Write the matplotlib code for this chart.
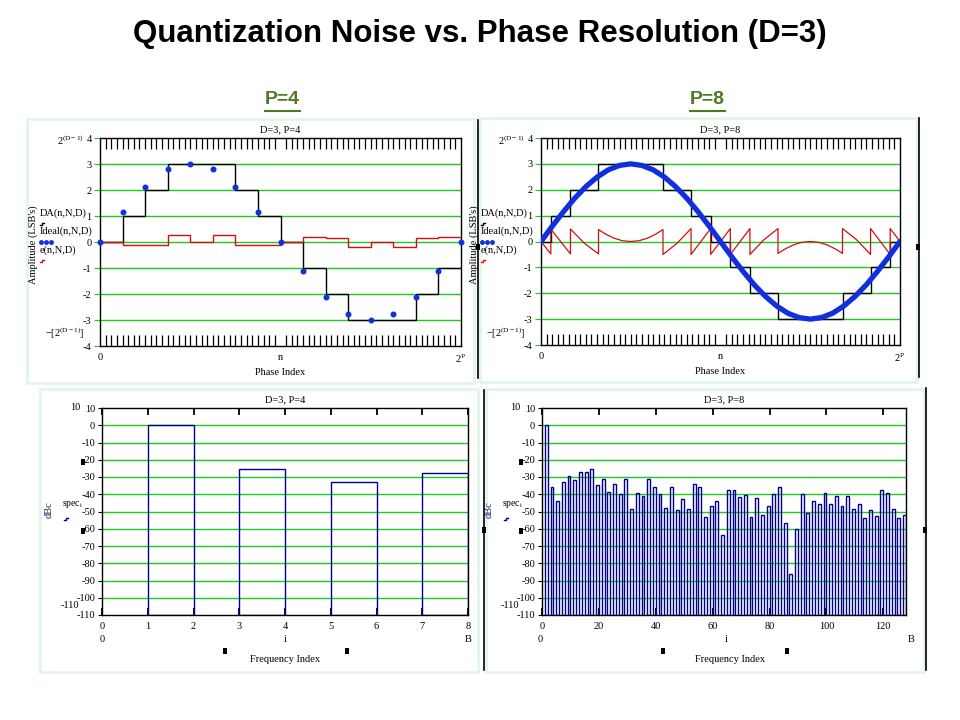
import numpy as np
import matplotlib.pyplot as plt
from matplotlib.patches import Rectangle
from matplotlib.lines import Line2D

# ---------------- data ----------------
# P=4 : 16 phase steps
n4 = list(range(17))
ideal4 = [0, 1.17, 2.12, 2.8, 3.0, 2.8, 2.12, 1.17, 0,
          -1.12, -2.1, -2.75, -3.0, -2.75, -2.1, -1.12, 0]
da4 = [0, 1, 2, 3, 3, 3, 2, 1, 0, -1, -2, -3, -3, -3, -2, -1]
err4 = [0, -0.12, -0.12, 0.28, 0, 0.28, -0.12, -0.12,
        0, 0.18, 0.14, -0.19, 0, -0.19, 0.14, 0.19]

# P=8 : 256 phase steps
n8 = list(range(0, 257, 8))
ideal8 = [0, 0.59, 1.15, 1.67, 2.12, 2.49, 2.77, 2.94, 3.0, 2.94, 2.77, 2.49, 2.12, 1.67, 1.15, 0.59, 0,
          -0.59, -1.15, -1.67, -2.12, -2.49, -2.77, -2.94, -3.0, -2.94, -2.77, -2.49, -2.12, -1.67, -1.15, -0.59, 0]
da8_edges = [0, 7, 21, 41, 87, 107, 121, 135, 149, 169, 215, 235, 249, 256]
da8_levels = [0, 1, 2, 3, 2, 1, 0, -1, -2, -3, -2, -1, 0]
err8_n = [0, 7, 7, 14, 21, 21, 31, 41, 41, 46, 52, 58, 64, 70, 76, 82, 87,
          87, 97, 107, 107, 121, 121, 135, 135, 149, 149, 159, 169,
          169, 174, 180, 186, 192, 198, 204, 210, 215, 215, 225, 235, 235, 249, 249, 256]
err8_v = [0, -0.48, 0.48, 0, -0.48, 0.48, -0.07, -0.48, 0.46, 0.29, 0.13, 0.03, 0, 0.03, 0.13, 0.29, 0.46,
          -0.5, -0.07, 0.5, -0.5, 0.5, -0.5, 0.5, -0.5, 0.5, -0.5, 0.07, 0.5,
          -0.46, -0.29, -0.13, -0.03, 0, -0.03, -0.13, -0.29, -0.46, 0.5, 0.07, -0.5, 0.5, -0.5, 0.5, 0]

# spectra (dBc)
bins4 = [1, 3, 5, 7]
spec4 = [0, -25.4, -32.9, -27.6]
bins8 = list(range(1, 128, 2))
spec8 = [0, -36, -44, -33, -29.5, -32, -27, -27, -25.5, -34.5, -31, -38.5, -34, -40, -31, -48.5,
         -39, -41, -31, -36, -40, -48, -36, -49, -43, -48.5, -34, -36, -53, -47, -44, -63.5,
         -37.5, -37.5, -41.5, -40.5, -53, -42, -52, -47, -40, -36, -56.5, -86.5, -60, -40, -51, -44,
         -45.5, -39, -45.5, -41, -47, -41, -48.5, -45.5, -53.5, -49, -52.5, -37.5, -39, -48.5, -54, -52]

# ---------------- styling ----------------
plt.rcParams['font.family'] = ['Liberation Serif', 'DejaVu Serif']
plt.rcParams['mathtext.fontset'] = 'stix'
plt.rcParams['axes.linewidth'] = 1.0
plt.rcParams['axes.unicode_minus'] = False

GREEN = '#22c822'
NAVY = '#000090'
BLUE = '#1030e0'
RED = '#d01010'
MINT = '#e2f5ea'
SUB = '#4e7a24'
FS = 7.5

W, H = 960, 720
fig = plt.figure(figsize=(9.6, 7.2), dpi=100)


def fx(x):
    return x / W


def fy(y):
    return 1 - y / H


def axes_px(l, t, r, b):
    return fig.add_axes([fx(l), fy(b), (r - l) / W, (b - t) / H])


def ftext(x, y, s, **kw):
    kw.setdefault('fontsize', FS)
    return fig.text(fx(x), fy(y), s, **kw)


# panel frames and Mathcad handles
for (l, t, r, b) in [(27, 119, 474, 383), (480, 118, 917, 382), (40, 389, 478, 672), (486, 389, 924, 672)]:
    fig.add_artist(Rectangle((fx(l), fy(b)), (r - l) / W, (b - t) / H, transform=fig.transFigure,
                             fill=False, edgecolor=MINT, lw=2))
for (x, t, b) in [(478, 120, 378), (919, 118, 377), (484, 390, 670), (926, 388, 670)]:
    fig.add_artist(Line2D([fx(x), fx(x)], [fy(t), fy(b)], transform=fig.transFigure, color='black', lw=1.2))
for (x, y) in [(478, 247), (918, 247), (83, 462), (83, 531), (225, 651), (347, 651), (521, 462),
               (521, 531), (663, 651), (787, 651), (484, 530), (925, 530)]:
    fig.add_artist(Rectangle((fx(x - 2), fy(y + 3)), 4 / W, 6 / H, transform=fig.transFigure,
                             color='black', lw=0))

# titles
ftext(480, 34, 'Quantization Noise vs. Phase Resolution (D=3)', family='Liberation Sans',
      fontsize=22.5, fontweight='bold', ha='center', va='center')
subs = [ftext(282, 100, 'P=4', family='Liberation Sans', fontsize=14, fontweight='bold',
              color=SUB, ha='center', va='center'),
        ftext(707, 100, 'P=8', family='Liberation Sans', fontsize=14, fontweight='bold',
              color=SUB, ha='center', va='center')]


def top_panel(ax, title, nmax, lx):
    ax.set_xlim(0, nmax)
    ax.set_ylim(-4, 4)
    for v in range(-3, 4):
        ax.axhline(v, color=GREEN, lw=1, zorder=0)
    ax.set_yticks(range(-4, 5))
    ax.set_xticks([0, nmax / 2, nmax])
    ax.set_xticklabels(['0', 'n', r'$\mathregular{2^P}$'])
    ax.set_xticks(np.linspace(0, nmax, 65), minor=True)
    ax.tick_params(axis='x', which='major', length=0, pad=5, labelsize=FS)
    ax.tick_params(axis='x', which='minor', direction='in', length=8, width=0.9,
                   top=True, bottom=True)
    ax.tick_params(axis='y', length=4, color=GREEN, labelsize=FS, pad=2)
    ax.set_title(title, fontsize=FS, pad=4)
    ax.set_xlabel('Phase Index', fontsize=FS, labelpad=2)
    # Mathcad-style outer labels and trace names
    ftext(lx + 30, 140, r'$\mathregular{2^{(D-1)}}$', ha='center', va='center')
    ftext(lx + 25, 333, r'$\mathregular{-[2^{(D-1)}]}$', ha='center', va='center')
    ftext(lx - 7, 245, "Amplitude (LSB's)", rotation=90, ha='center', va='center')
    ftext(lx, 213, 'DA(n,N,D)', ha='left', va='center')
    fig.add_artist(Line2D([fx(lx), fx(lx + 2), fx(lx + 2), fx(lx + 4)], [fy(225), fy(225), fy(223), fy(223)],
                          transform=fig.transFigure, color='black', lw=1))
    ftext(lx, 231, 'Ideal(n,N,D)', ha='left', va='center')
    fig.add_artist(Line2D([fx(lx + 1), fx(lx + 6), fx(lx + 11)], [fy(242)] * 3, transform=fig.transFigure,
                          color=BLUE, lw=0, marker='o', ms=2.5))
    ftext(lx, 250, 'e(n,N,D)', ha='left', va='center')
    fig.add_artist(Line2D([fx(lx), fx(lx + 2), fx(lx + 2), fx(lx + 4)], [fy(262), fy(262), fy(260), fy(260)],
                          transform=fig.transFigure, color=RED, lw=1))


# ---- top left: P=4 ----
ax1 = axes_px(100, 138, 461, 346)
top_panel(ax1, 'D=3, P=4', 16, 40)
ax1.stairs(da4, n4, baseline=None, color='black', lw=1, zorder=3)
ax1.stairs(err4, n4, baseline=None, color=RED, lw=1, zorder=3)
ax1.plot(n4, ideal4, 'o', color=BLUE, ms=3.3, zorder=4, clip_on=False)

# ---- top right: P=8 ----
ax2 = axes_px(541, 138, 900, 345)
top_panel(ax2, 'D=3, P=8', 256, 481)
ax2.stairs(da8_levels, da8_edges, baseline=None, color='black', lw=1, zorder=3)
ax2.plot(err8_n, err8_v, color=RED, lw=0.9, zorder=3)
ax2.plot(n8, ideal8, color=BLUE, lw=3.8, zorder=4, solid_capstyle='round')


def spec_panel(ax, title, bins, vals, xmax, ticks, lx):
    ax.set_xlim(0, xmax)
    ax.set_ylim(-110, 10)
    for v in range(-100, 10, 10):
        ax.axhline(v, color=GREEN, lw=1, zorder=0)
    heights = [v + 110 for v in vals]
    ax.bar(bins, heights, width=1, bottom=-110, align='edge', fill=False,
           edgecolor=NAVY, lw=1, zorder=3)
    ax.set_yticks(range(-110, 11, 10))
    ax.set_xticks(ticks)
    ax.tick_params(axis='x', direction='in', length=5, width=1.3, top=True, labelsize=FS, pad=5)
    ax.tick_params(axis='y', length=3, labelsize=FS, pad=2)
    ax.set_title(title, fontsize=FS, pad=4)
    ftext(lx + 35, 408, '10', ha='center', va='center')
    ftext(lx + 30, 605, '-110', ha='center', va='center')
    ftext(lx + 9, 510, 'dBc', rotation=90, ha='center', va='center', color='#202060')
    ftext(lx + 22, 505, r'$\mathregular{spec_i}$', ha='left', va='center', fontsize=7)
    fig.add_artist(Line2D([fx(lx + 24), fx(lx + 26), fx(lx + 26), fx(lx + 28)],
                          [fy(520), fy(520), fy(518), fy(518)], transform=fig.transFigure, color=NAVY, lw=1))


# ---- bottom left ----
ax3 = axes_px(102, 408, 468, 615)
spec_panel(ax3, 'D=3, P=4', bins4, spec4, 8, range(0, 9), 40)
ftext(102, 640, '0', ha='center', va='center')
ftext(285, 640, 'i', ha='center', va='center')
ftext(468, 640, 'B', ha='center', va='center')
ftext(285, 660, 'Frequency Index', ha='center', va='center')

# ---- bottom right ----
ax4 = axes_px(542, 408, 906, 615)
spec_panel(ax4, 'D=3, P=8', bins8, spec8, 128, range(0, 121, 20), 480)
ftext(540, 640, '0', ha='center', va='center')
ftext(726, 640, 'i', ha='center', va='center')
ftext(911, 640, 'B', ha='center', va='center')
ftext(730, 660, 'Frequency Index', ha='center', va='center')

# underline the P=4 / P=8 headings
fig.canvas.draw()
for t in subs:
    bb = t.get_window_extent()
    y = bb.y0 - 2
    fig.add_artist(Line2D([bb.x0 / W, bb.x1 / W], [y / H, y / H], transform=fig.transFigure,
                          color=SUB, lw=1.5))

fig.savefig('out.png', dpi=100)
